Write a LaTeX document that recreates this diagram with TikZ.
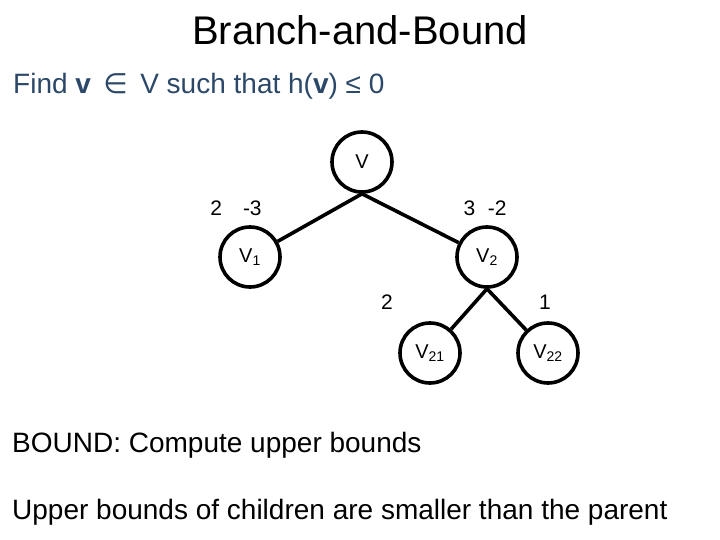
\documentclass[tikz,border=0pt]{standalone}
\usepackage{fontspec}
\setmainfont{Liberation Sans}
\newfontfamily\symfont{DejaVu Sans}
\definecolor{findcol}{RGB}{44,72,104}
\begin{document}
\begin{tikzpicture}[x=1pt,y=-1pt,
  tnode/.style={draw,line width=3.6pt,circle,minimum size=60pt,inner sep=0pt,font=\fontsize{20}{22}\selectfont},
  edge/.style={line width=3.6pt},
  lab/.style={font=\fontsize{21}{24}\selectfont},
  big/.style={font=\fontsize{28}{32}\selectfont,anchor=west,inner sep=0pt}]
\useasboundingbox (0,0) rectangle (720,540);
\node[font=\fontsize{40}{44}\selectfont] (title) at (360,30) {Branch-and-Bound};
\node[big,text=findcol] (find) at (13,86) {Find \textbf{v} \,{\symfont ∈}\, V such that h(\textbf{v}) ≤ 0};
\node[tnode] (V) at (362,162) {V};
\node[tnode] (V1) at (250,257) {V\textsubscript{1}};
\node[tnode] (V2) at (487,257) {V\textsubscript{2}};
\node[tnode] (V21) at (430,353) {V\textsubscript{21}};
\node[tnode] (V22) at (548,353) {V\textsubscript{22}};
\draw[edge] (V.south) -- (V1);
\draw[edge] (V.south) -- (V2);
\draw[edge] (V2.south) -- (V21);
\draw[edge] (V2.south) -- (V22);
\node[lab] (l1) at (236,208) {2\hspace{1em}-3};
\node[lab] (l2) at (485,208) {3\hspace{0.6em}-2};
\node[lab] (l3) at (387,302) {2};
\node[lab] (l4) at (545,302) {1};
\node[big] (bound) at (12,445) {BOUND: Compute upper bounds};
\node[big] (upper) at (12,512) {Upper bounds of children are smaller than the parent};
\end{tikzpicture}
\end{document}
